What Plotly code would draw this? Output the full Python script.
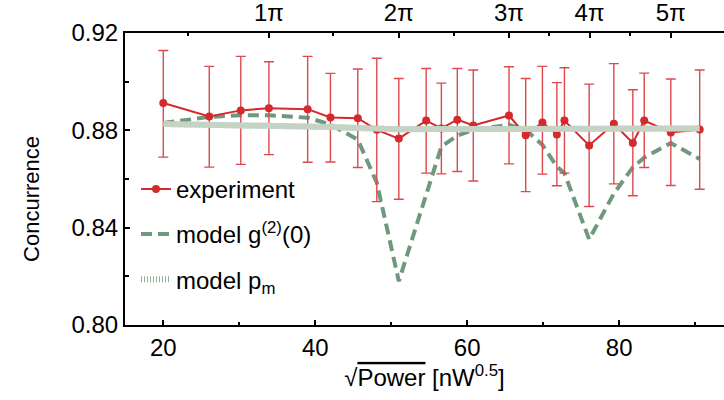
import plotly.graph_objects as go

# ---- data ----
x_exp = [20.0, 26.05, 30.2, 33.9, 39.0, 42.0, 45.6, 48.1, 51.0, 54.6, 56.6, 58.7,
         60.8, 65.5, 67.7, 69.9, 71.8, 72.8, 76.05, 79.3, 81.8, 83.3, 86.8, 90.6]
y_exp = [0.8912, 0.8857, 0.8882, 0.8891, 0.8887, 0.8853, 0.8850, 0.8802, 0.8766, 0.8840,
         0.8808, 0.8844, 0.8820, 0.8861, 0.8780, 0.8832, 0.8783, 0.8840, 0.8738, 0.8827,
         0.8748, 0.8840, 0.8791, 0.8803]
y_exp_upper = [0.9128, 0.9063, 0.9104, 0.9082, 0.9104, 0.9034, 0.9052, 0.9096, 0.9013, 0.9054,
               0.8994, 0.9054, 0.9048, 0.9061, 0.9013, 0.9063, 0.8996, 0.9057, 0.8990, 0.9074,
               0.8967, 0.9035, 0.9011, 0.9048]
y_exp_lower = [0.8690, 0.8649, 0.8660, 0.8700, 0.8669, 0.8670, 0.8647, 0.8507, 0.8517, 0.8624,
               0.8621, 0.8631, 0.8592, 0.8662, 0.8548, 0.8620, 0.8572, 0.8624, 0.8487, 0.8580,
               0.8531, 0.8647, 0.8573, 0.8558]
y_g2 = [0.8830, 0.8855, 0.8862, 0.8862, 0.8852, 0.8824, 0.8762, 0.8585, 0.8180, 0.8535,
        0.8733, 0.8778, 0.8802, 0.8823, 0.8802, 0.8740, 0.8651, 0.8624, 0.8352, 0.8540,
        0.8648, 0.8688, 0.8748, 0.8682]
y_pm = [0.8826, 0.8824, 0.8822, 0.8820, 0.8817, 0.8814, 0.8810, 0.8806, 0.8804, 0.8805,
        0.8805, 0.8806, 0.8806, 0.8807, 0.8806, 0.8806, 0.8807, 0.8807, 0.8806, 0.8807,
        0.8807, 0.8808, 0.8808, 0.8808]

pi_tick_pos = [33.9, 51.0, 65.5, 76.1, 86.8]
pi_tick_text = ["1π", "2π", "3π", "4π", "5π"]
pi_minor_pos = [23.2, 42.4, 58.3, 70.8, 81.4]

x_ticks = [20, 40, 60, 80]
y_ticks = [0.80, 0.84, 0.88, 0.92]

err_plus = [u - y for u, y in zip(y_exp_upper, y_exp)]
err_minus = [y - l for l, y in zip(y_exp_lower, y_exp)]

RED = "#d42a2e"
RED_ERR = "#dc4a4e"
GREEN = "#6f987e"
FONT = "Liberation Sans, Arial, sans-serif"
XR = [14.96, 93.8]

fig = go.Figure()

# model p_m (striped thick band)
fig.add_trace(go.Scatter(
    x=x_exp, y=y_pm, mode="lines", xaxis="x2",
    line=dict(color="#c4d3c4", width=6),
    showlegend=False, hoverinfo="skip"))
fig.add_trace(go.Scatter(
    x=x_exp, y=y_pm, mode="lines", name="model p<sub>m</sub>",
    line=dict(color="#8fae95", width=6, dash="1px,2px"),
    legendgroup="c", legendrank=3))

# model g2
fig.add_trace(go.Scatter(
    x=x_exp, y=y_g2, mode="lines", name="model g<sup>(2)</sup>(0)",
    line=dict(color=GREEN, width=4, dash="11px,6px"),
    legendgroup="b", legendrank=2))

# experiment
fig.add_trace(go.Scatter(
    x=x_exp, y=y_exp, mode="lines+markers", name="experiment",
    line=dict(color=RED, width=2),
    marker=dict(color=RED, size=8),
    error_y=dict(type="data", symmetric=False, array=err_plus, arrayminus=err_minus,
                 color=RED_ERR, thickness=1.4, width=5),
    legendgroup="a", legendrank=1))

fig.update_layout(
    width=724, height=400,
    margin=dict(l=125, r=0, t=33, b=75, autoexpand=False),
    paper_bgcolor="white", plot_bgcolor="white",
    font=dict(family=FONT, size=24, color="black"),
    showlegend=True,
    legend=dict(x=0.0184, y=0.0795, xanchor="left", yanchor="bottom",
                bgcolor="rgba(0,0,0,0)", font=dict(size=24, family=FONT),
                tracegroupgap=11, itemwidth=30),
    xaxis=dict(
        range=XR, showgrid=False, zeroline=False, automargin=False,
        showline=True, linecolor="black", linewidth=2,
        ticks="inside", ticklen=5, tickwidth=2, tickcolor="black",
        tickvals=x_ticks, ticktext=[str(v) for v in x_ticks],
        tickfont=dict(size=24, family=FONT),
        minor=dict(tickmode="array", tickvals=[30, 50, 70, 90], ticks="inside",
                   ticklen=3, tickwidth=2, tickcolor="black"),
        title=dict(text="√<span style='text-decoration:overline'>Power</span> [nW<sup>0.5</sup>]",
                   font=dict(size=24, family=FONT), standoff=0),
    ),
    xaxis2=dict(
        range=XR, overlaying="x", side="top", anchor="y", automargin=False,
        showgrid=False, zeroline=False,
        showline=True, linecolor="black", linewidth=2,
        ticks="inside", ticklen=5, tickwidth=2, tickcolor="black",
        tickvals=pi_tick_pos, ticktext=pi_tick_text,
        tickfont=dict(size=24, family=FONT),
        minor=dict(tickmode="array", tickvals=pi_minor_pos, ticks="inside",
                   ticklen=3, tickwidth=2, tickcolor="black"),
    ),
    yaxis=dict(
        range=[0.80, 0.92], showgrid=False, zeroline=False, automargin=False,
        showline=True, linecolor="black", linewidth=2,
        ticks="inside", ticklen=5, tickwidth=2, tickcolor="black",
        tickvals=y_ticks, ticktext=["%.2f" % v for v in y_ticks],
        tickfont=dict(size=24, family=FONT),
        minor=dict(tickmode="array", tickvals=[0.82, 0.86, 0.90], ticks="inside",
                   ticklen=4, tickwidth=2, tickcolor="black"),
    ),
    annotations=[dict(
        text="Concurrence", textangle=-90, showarrow=False,
        xref="paper", yref="paper", x=-0.157, y=0.4315,
        xanchor="center", yanchor="middle",
        font=dict(size=22, family=FONT, color="black"))],
)

fig.write_html("out.html", config={"displayModeBar": False},
               post_script="document.body.style.margin='0';")
